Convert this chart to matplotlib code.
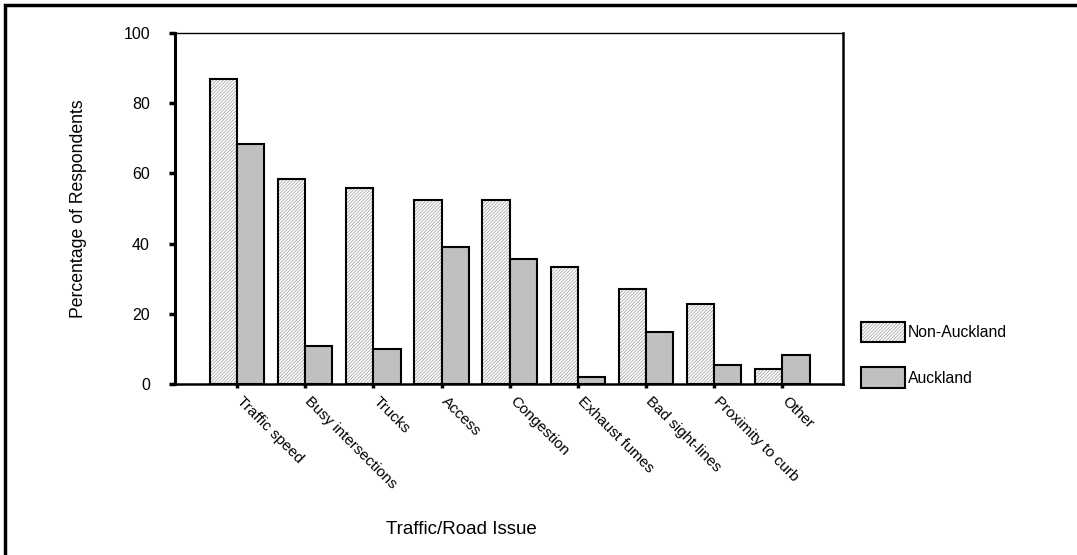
import numpy as np
import matplotlib
matplotlib.use("Agg")
import matplotlib.pyplot as plt
import matplotlib.transforms as mtransforms
from matplotlib.patches import Patch, Rectangle

plt.rcParams['font.family'] = ['Liberation Sans', 'DejaVu Sans']
plt.rcParams['hatch.linewidth'] = 0.5

issues = ["Traffic speed", "Busy intersections", "Trucks", "Access", "Congestion",
          "Exhaust fumes", "Bad sight-lines", "Proximity to curb", "Other"]
non_auckland = [86.8, 58.5, 55.8, 52.5, 52.5, 33.3, 27.1, 22.7, 4.2]
auckland = [68.4, 10.8, 10.0, 39.0, 35.7, 2.1, 14.9, 5.4, 8.3]

fig = plt.figure(figsize=(10.77, 5.55), dpi=100)
ax = fig.add_axes([175 / 1077, 1 - 384 / 555, 668 / 1077, 351 / 555])

x = np.arange(len(issues))
w = 0.4
fine_hatch = "/" * 10
hatch_grey = "#9a9a9a"
# hatched fill first, then black outline on top
ax.bar(x - w / 2, non_auckland, w, color="white", hatch=fine_hatch,
       edgecolor=hatch_grey, linewidth=0, zorder=2)
ax.bar(x - w / 2, non_auckland, w, fill=False, edgecolor="black", linewidth=1.5, zorder=3)
ax.bar(x + w / 2, auckland, w, color="#c0c0c0", edgecolor="black", linewidth=1.5, zorder=3)

ax.set_xlim(-0.91, 8.89)
ax.set_ylim(0, 100)
ax.set_yticks([0, 20, 40, 60, 80, 100])
ax.set_xticks(x)
ax.set_xticklabels(issues, rotation=-45, ha="left", va="top", rotation_mode="anchor")
ax.tick_params(axis="x", direction="out", length=3, width=2.5, pad=4, labelsize=11)
ax.tick_params(axis="y", direction="out", length=4, width=2.5, pad=14, labelsize=11.5)
shift = mtransforms.ScaledTranslation(7 / 100, 0, fig.dpi_scale_trans)
for lbl in ax.get_xticklabels():
    lbl.set_transform(lbl.get_transform() + shift)

ax.spines["left"].set_linewidth(2.2)
ax.spines["bottom"].set_linewidth(1.8)
ax.spines["right"].set_linewidth(1.8)
ax.spines["top"].set_linewidth(1.0)

ax.set_ylabel("Percentage of Respondents", fontsize=12.7)
ax.yaxis.set_label_coords((87 - 175) / 668, 0.5)
fig.text(461 / 1077, 1 - 530 / 555, "Traffic/Road Issue", fontsize=13.5,
         ha="center", va="center")

na_handle = (Patch(facecolor="white", hatch=fine_hatch, edgecolor=hatch_grey, linewidth=0),
             Patch(fill=False, edgecolor="black", linewidth=1.5))
a_handle = Patch(facecolor="#c0c0c0", edgecolor="black", linewidth=1.5)
fig.legend([na_handle, a_handle], ["Non-Auckland", "Auckland"], loc="upper left",
           bbox_to_anchor=(847 / 1077, 1 - 308 / 555), frameon=False,
           fontsize=11.3, handlelength=2.8, handleheight=1.6, handletextpad=0.2,
           labelspacing=1.6)

# outer frame, only top and left edges visible
fig.patches.append(Rectangle((5 / 1077, -0.5), 2, 1 - 5 / 555 + 0.5,
                             transform=fig.transFigure, fill=False,
                             edgecolor="black", linewidth=2.5))

fig.savefig("out.png", dpi=100)
